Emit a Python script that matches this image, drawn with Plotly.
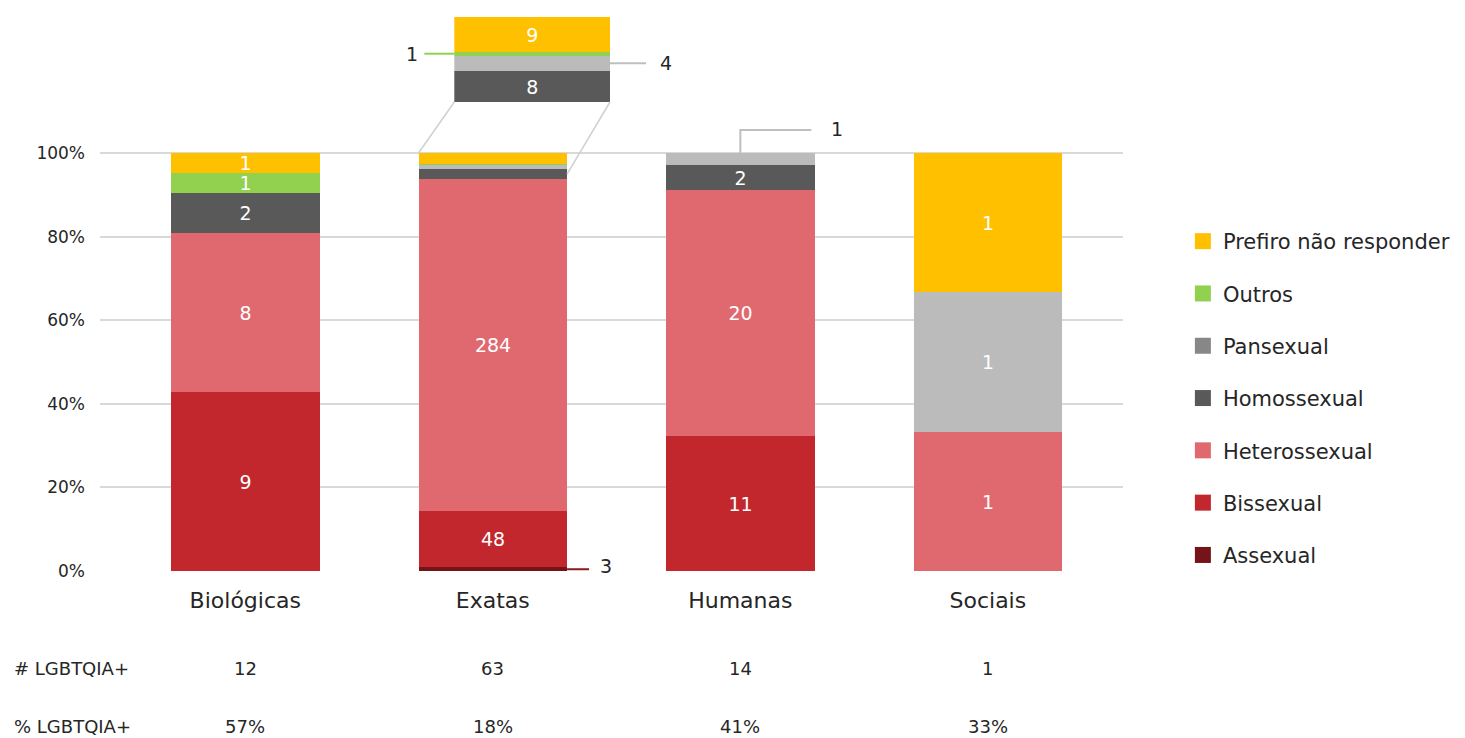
import plotly.graph_objects as go

# ---------------- data ----------------
categories = ["Biológicas", "Exatas", "Humanas", "Sociais"]
series_names = ["Assexual", "Bissexual", "Heterossexual", "Homossexual",
                "Pansexual", "Outros", "Prefiro não responder"]
assexual = [0, 3, 0, 0]
bissexual = [9, 48, 11, 0]
heterossexual = [8, 284, 20, 1]
homossexual = [2, 8, 2, 0]
pansexual = [0, 4, 1, 1]
outros = [1, 1, 0, 0]
prefiro = [1, 9, 0, 1]
lgbt_count = ["12", "63", "14", "1"]
lgbt_pct = ["57%", "18%", "41%", "33%"]
y_ticks = [0, 0.2, 0.4, 0.6, 0.8, 1.0]
y_ticktext = ["0%", "20%", "40%", "60%", "80%", "100%"]

series_values = [assexual, bissexual, heterossexual, homossexual, pansexual, outros, prefiro]
bar_colors = ["#741418", "#C1272D", "#E06970", "#595959", "#BBBBBB", "#92D050", "#FFC000"]
legend_colors = ["#741418", "#C1272D", "#E06970", "#595959", "#878787", "#92D050", "#FFC000"]

FONT = "DejaVu Sans"
TXT = "#262626"

# ---------------- layout geometry ----------------
W, H = 1465, 738
ML, MR, MT, MB = 100, 340, 10, 167
PW, PH = W - ML - MR, H - MT - MB
X_RANGE = [-0.587, 3.546]
Y_RANGE = [0, 1.342]
BAR_W = 0.6


def xdata(px):
    return X_RANGE[0] + (px - ML) / PW * (X_RANGE[1] - X_RANGE[0])


def ydata(py):
    return Y_RANGE[0] + (H - MB - py) / PH * (Y_RANGE[1] - Y_RANGE[0])


totals = [sum(v[i] for v in series_values) for i in range(len(categories))]
xs = list(range(len(categories)))

fig = go.Figure()

# main stacked bars (percent of each category)
for name, vals, col in zip(series_names, series_values, bar_colors):
    fracs = [v / t for v, t in zip(vals, totals)]
    texts = [str(v) if f >= 0.04 else "" for v, f in zip(vals, fracs)]
    fig.add_trace(go.Bar(
        x=xs, y=fracs, name=name, width=BAR_W,
        marker=dict(color=col, line=dict(width=0)),
        text=texts, textposition="inside", insidetextanchor="middle", textangle=0,
        textfont=dict(color="white", size=19, family=FONT),
        showlegend=False, hoverinfo="skip",
    ))

# inset (zoom of the top of Exatas)
ex = categories.index("Exatas")
inset_vals = [homossexual[ex], pansexual[ex], outros[ex], prefiro[ex]]
inset_names = ["Homossexual", "Pansexual", "Outros", "Prefiro não responder"]
inset_cols = ["#595959", "#BBBBBB", "#92D050", "#FFC000"]
inset_text = [str(inset_vals[0]), "", "", str(inset_vals[3])]
for nm, v, c, t in zip(inset_names, inset_vals, inset_cols, inset_text):
    fig.add_trace(go.Bar(
        x=[0], y=[v], name=nm, width=1, xaxis="x2", yaxis="y2",
        marker=dict(color=c, line=dict(width=0)),
        text=[t], textposition="inside", insidetextanchor="middle", textangle=0,
        textfont=dict(color="white", size=19, family=FONT),
        showlegend=False, hoverinfo="skip",
    ))

# legend entries (top to bottom)
for i in reversed(range(len(series_names))):
    fig.add_trace(go.Scatter(
        x=[None], y=[None], mode="markers", name=series_names[i],
        marker=dict(symbol="square", size=18, color=legend_colors[i]),
        legendgroup=series_names[i], showlegend=True,
    ))

INSET_PX = (455, 611, 17, 102)  # left, right, top, bottom
inset_total = sum(inset_vals)


def inset_py(v):
    return INSET_PX[3] - v / inset_total * (INSET_PX[3] - INSET_PX[2])


shapes = []
line_gray = "#D0D0D0"
# connectors from Exatas bar to inset
ex_homo_mid = (assexual[ex] + bissexual[ex] + heterossexual[ex] + homossexual[ex] / 2) / totals[ex]
shapes.append(dict(type="line", xref="x", yref="y",
                   x0=xdata(INSET_PX[0]), y0=ydata(INSET_PX[3]), x1=ex - BAR_W / 2, y1=1.0,
                   line=dict(color=line_gray, width=1.5)))
shapes.append(dict(type="line", xref="x", yref="y",
                   x0=xdata(INSET_PX[1]), y0=ydata(INSET_PX[3]), x1=ex + BAR_W / 2, y1=ex_homo_mid,
                   line=dict(color=line_gray, width=1.5)))

annotations = []
afont = dict(family=FONT, size=19, color=TXT)

# inset callouts (in main axis coordinates)
y_outros = ydata(inset_py(inset_vals[0] + inset_vals[1] + inset_vals[2] / 2))
y_pan = ydata(inset_py(inset_vals[0] + inset_vals[1] / 2))
x_il, x_ir = xdata(INSET_PX[0]), xdata(INSET_PX[1])
shapes.append(dict(type="line", xref="x", yref="y", xsizemode="pixel", xanchor=x_il,
                   x0=0, x1=-30, y0=y_outros, y1=y_outros, line=dict(color="#92D050", width=2)))
annotations.append(dict(xref="x", yref="y", x=x_il, y=y_outros, xshift=-42, text=str(inset_vals[2]),
                        showarrow=False, font=afont, yanchor="middle"))
shapes.append(dict(type="line", xref="x", yref="y", xsizemode="pixel", xanchor=x_ir,
                   x0=0, x1=36, y0=y_pan, y1=y_pan, line=dict(color="#BFBFBF", width=2)))
annotations.append(dict(xref="x", yref="y", x=x_ir, y=y_pan, xshift=56, text=str(inset_vals[1]),
                        showarrow=False, font=afont, yanchor="middle"))

# Exatas Assexual callout
y_as = assexual[ex] / totals[ex] / 2
shapes.append(dict(type="line", xref="x", yref="y", xsizemode="pixel", xanchor=ex + BAR_W / 2,
                   x0=0, x1=22, y0=y_as, y1=y_as, line=dict(color="#8B1A1F", width=2)))
annotations.append(dict(xref="x", yref="y", x=ex + BAR_W / 2, y=y_as, xshift=39, yshift=3,
                        text=str(assexual[ex]), showarrow=False, font=afont, yanchor="middle"))

# Humanas Pansexual callout (elbow)
hu = categories.index("Humanas")
shapes.append(dict(type="path", xref="x", yref="y", xsizemode="pixel", ysizemode="pixel",
                   xanchor=hu, yanchor=1.0, path="M0,0 V23 H71",
                   line=dict(color="#BFBFBF", width=2)))
annotations.append(dict(xref="x", yref="y", x=hu, y=1.0, xshift=97, yshift=24,
                        text=str(pansexual[hu]), showarrow=False, font=afont, yanchor="middle"))

# table below the chart
tfont = dict(family=FONT, size=18, color=TXT)
row1_y = (H - MB - 668) / PH
row2_y = (H - MB - 726) / PH
annotations.append(dict(xref="paper", yref="paper", x=(12 - ML) / PW, y=row1_y, xanchor="left",
                        yanchor="middle", text="# LGBTQIA+", showarrow=False, font=tfont))
annotations.append(dict(xref="paper", yref="paper", x=(12 - ML) / PW, y=(H - MB - 726) / PH,
                        xanchor="left", yanchor="middle", text="% LGBTQIA+", showarrow=False,
                        font=tfont))
for i in xs:
    annotations.append(dict(xref="x", yref="paper", x=i, y=row1_y, text=lgbt_count[i],
                            yanchor="middle", showarrow=False, font=tfont))
    annotations.append(dict(xref="x", yref="paper", x=i, y=row2_y, text=lgbt_pct[i],
                            yanchor="middle", showarrow=False, font=tfont))

fig.update_layout(
    width=W, height=H,
    margin=dict(l=ML, r=MR, t=MT, b=MB),
    paper_bgcolor="white", plot_bgcolor="white",
    barmode="stack", bargap=0,
    font=dict(family=FONT, color=TXT),
    uniformtext=dict(minsize=19, mode="show"),
    xaxis=dict(range=X_RANGE, tickvals=xs, ticktext=categories, showgrid=False, zeroline=False,
               showline=False, ticks="", tickfont=dict(size=22, color=TXT, family=FONT),
               ticklabelstandoff=14, fixedrange=True),
    yaxis=dict(range=Y_RANGE, tickvals=y_ticks, ticktext=y_ticktext, showgrid=True,
               gridcolor="#D9D9D9", gridwidth=1.5, zeroline=False, showline=False, ticks="",
               tickfont=dict(size=17, color=TXT, family=FONT), ticklabelstandoff=14),
    xaxis2=dict(domain=[(INSET_PX[0] - ML) / PW, (INSET_PX[1] - ML) / PW], range=[-0.5, 0.5],
                anchor="y2", visible=False),
    yaxis2=dict(domain=[(H - MB - INSET_PX[3]) / PH, (H - MB - INSET_PX[2]) / PH],
                range=[0, inset_total], anchor="x2", visible=False),
    legend=dict(x=(1185 - ML) / PW, y=(H - MB - 221) / PH, xanchor="left", yanchor="top",
                traceorder="grouped", tracegroupgap=22, itemsizing="trace",
                font=dict(family=FONT, size=21, color=TXT), bgcolor="rgba(0,0,0,0)"),
    shapes=shapes, annotations=annotations,
)

fig.write_html("out.html")
